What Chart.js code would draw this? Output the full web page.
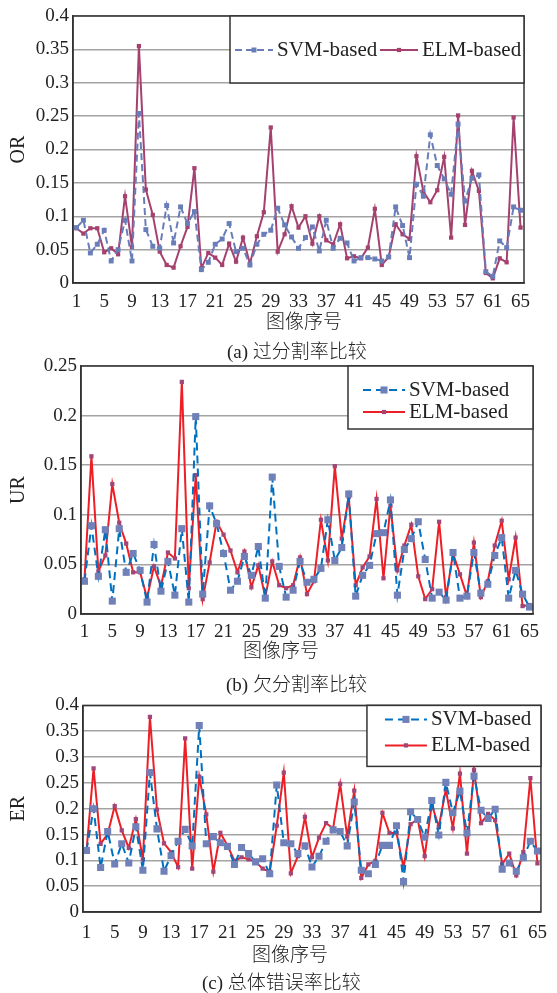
<!DOCTYPE html>
<html>
<head>
<meta charset="utf-8">
<script src="https://cdn.jsdelivr.net/npm/chart.js@4.4.1/dist/chart.umd.min.js"></script>
<style>
body { margin: 0; background: #fff; }
#page { position: relative; width: 557px; height: 993px; overflow: hidden; background: #fff; }
#page canvas { position: absolute; left: 0; }
.txt { position: absolute; font-size: 19px; line-height: 20px; height: 20px; white-space: nowrap; color: #222;
       font-weight: 300; font-family: 'Liberation Serif', 'Noto Sans CJK SC', serif; }
</style>
</head>
<body>
<div id="page">
  <canvas id="chartOR" width="557" height="340" style="top:0px"></canvas>
  <canvas id="chartUR" width="557" height="330" style="top:345px"></canvas>
  <canvas id="chartER" width="557" height="280" style="top:690px"></canvas>

  <div class="txt" style="left:266px;top:312px">图像序号</div>
  <div class="txt" style="left:227px;top:342px">(a) 过分割率比较</div>
  <div class="txt" style="left:243px;top:641px">图像序号</div>
  <div class="txt" style="left:226px;top:675px">(b) 欠分割率比较</div>
  <div class="txt" style="left:252px;top:945px">图像序号</div>
  <div class="txt" style="left:202px;top:973px">(c) 总体错误率比较</div>
</div>

<script>
const imageNo = [1, 2, 3, 4, 5, 6, 7, 8, 9, 10, 11, 12, 13, 14, 15, 16, 17, 18, 19, 20,
  21, 22, 23, 24, 25, 26, 27, 28, 29, 30, 31, 32, 33, 34, 35, 36, 37, 38, 39, 40,
  41, 42, 43, 44, 45, 46, 47, 48, 49, 50, 51, 52, 53, 54, 55, 56, 57, 58, 59, 60,
  61, 62, 63, 64, 65];

// (a) over-segmentation rate
const orSVM = [0.083, 0.094, 0.045, 0.058, 0.079, 0.033, 0.05, 0.094, 0.033, 0.254,
  0.08, 0.055, 0.052, 0.116, 0.06, 0.114, 0.089, 0.107, 0.02, 0.031,
  0.058, 0.066, 0.089, 0.047, 0.052, 0.027, 0.058, 0.073, 0.079, 0.112,
  0.087, 0.069, 0.052, 0.068, 0.084, 0.048, 0.094, 0.052, 0.067, 0.06,
  0.033, 0.038, 0.038, 0.036, 0.033, 0.039, 0.114, 0.086, 0.038, 0.148,
  0.13, 0.222, 0.176, 0.156, 0.133, 0.238, 0.123, 0.157, 0.162, 0.017,
  0.01, 0.063, 0.053, 0.114, 0.109];
const orELM = [0.082, 0.074, 0.082, 0.082, 0.046, 0.052, 0.043, 0.13, 0.054, 0.355,
  0.14, 0.102, 0.047, 0.027, 0.023, 0.055, 0.084, 0.172, 0.022, 0.045,
  0.038, 0.027, 0.059, 0.032, 0.068, 0.029, 0.07, 0.106, 0.233, 0.047,
  0.073, 0.115, 0.083, 0.1, 0.059, 0.1, 0.064, 0.058, 0.088, 0.037,
  0.04, 0.037, 0.053, 0.111, 0.027, 0.039, 0.088, 0.073, 0.066, 0.19,
  0.137, 0.121, 0.139, 0.189, 0.068, 0.251, 0.087, 0.168, 0.138, 0.015,
  0.007, 0.037, 0.031, 0.248, 0.083];

// (b) under-segmentation rate
const urSVM = [0.033, 0.089, 0.038, 0.085, 0.013, 0.086, 0.042, 0.061, 0.044, 0.012,
  0.07, 0.023, 0.053, 0.019, 0.086, 0.012, 0.199, 0.02, 0.109, 0.091,
  0.061, 0.024, 0.033, 0.058, 0.039, 0.068, 0.016, 0.138, 0.048, 0.017,
  0.024, 0.053, 0.032, 0.035, 0.046, 0.095, 0.054, 0.067, 0.121, 0.018,
  0.039, 0.049, 0.081, 0.082, 0.115, 0.019, 0.065, 0.076, 0.093, 0.055,
  0.016, 0.022, 0.014, 0.062, 0.016, 0.018, 0.062, 0.021, 0.03, 0.059,
  0.077, 0.016, 0.044, 0.02, 0.007];
const urELM = [0.035, 0.159, 0.043, 0.059, 0.131, 0.092, 0.071, 0.042, 0.042, 0.016,
  0.048, 0.028, 0.062, 0.056, 0.234, 0.026, 0.14, 0.015, 0.052, 0.093,
  0.08, 0.064, 0.042, 0.063, 0.027, 0.049, 0.017, 0.053, 0.029, 0.026,
  0.029, 0.057, 0.02, 0.033, 0.095, 0.054, 0.149, 0.076, 0.118, 0.029,
  0.047, 0.058, 0.116, 0.036, 0.109, 0.044, 0.069, 0.09, 0.038, 0.015,
  0.025, 0.093, 0.017, 0.061, 0.04, 0.018, 0.072, 0.017, 0.033, 0.069,
  0.094, 0.035, 0.077, 0.008, 0.009];

// (c) overall error rate
const erSVM = [0.119, 0.2, 0.086, 0.156, 0.093, 0.132, 0.095, 0.165, 0.081, 0.27,
  0.161, 0.079, 0.109, 0.137, 0.16, 0.128, 0.361, 0.132, 0.146, 0.134,
  0.127, 0.092, 0.125, 0.113, 0.097, 0.103, 0.074, 0.246, 0.134, 0.132,
  0.113, 0.128, 0.087, 0.108, 0.137, 0.159, 0.156, 0.128, 0.213, 0.081,
  0.074, 0.092, 0.129, 0.129, 0.167, 0.059, 0.194, 0.179, 0.145, 0.216,
  0.149, 0.251, 0.192, 0.234, 0.153, 0.263, 0.197, 0.181, 0.199, 0.083,
  0.095, 0.079, 0.105, 0.137, 0.118];
const erELM = [0.119, 0.278, 0.132, 0.151, 0.205, 0.158, 0.124, 0.18, 0.102, 0.378,
  0.198, 0.133, 0.116, 0.087, 0.336, 0.084, 0.262, 0.189, 0.078, 0.153,
  0.129, 0.099, 0.106, 0.102, 0.097, 0.084, 0.078, 0.167, 0.27, 0.075,
  0.108, 0.184, 0.106, 0.144, 0.172, 0.162, 0.248, 0.146, 0.235, 0.066,
  0.092, 0.099, 0.192, 0.153, 0.153, 0.086, 0.17, 0.18, 0.108, 0.208,
  0.165, 0.237, 0.162, 0.268, 0.113, 0.275, 0.172, 0.19, 0.178, 0.093,
  0.113, 0.071, 0.116, 0.259, 0.094];

const seriesNames = ['SVM-based', 'ELM-based'];

Chart.defaults.font.family = "'Liberation Serif', 'Times New Roman', serif";
Chart.defaults.font.size = 19;
Chart.defaults.color = '#222';

// box round the plot area
const frame = {
  id: 'frame',
  afterDatasetsDraw(chart) {
    const a = chart.chartArea, ctx = chart.ctx;
    ctx.save();
    ctx.strokeStyle = '#333';
    ctx.lineWidth = 1.5;
    ctx.strokeRect(a.left, a.top, a.right - a.left, a.bottom - a.top);
    ctx.restore();
  }
};

// legend drawn as a boxed panel in the top right corner of the plot
const boxLegend = {
  id: 'boxLegend',
  afterDatasetsDraw(chart, args, o) {
    const a = chart.chartArea, ctx = chart.ctx;
    const x0 = a.right - o.w, y0 = a.top;
    ctx.save();
    ctx.fillStyle = '#fff';
    ctx.fillRect(x0, y0, o.w, o.h);
    ctx.strokeStyle = '#333';
    ctx.lineWidth = 1.5;
    ctx.strokeRect(x0, y0, o.w, o.h);
    ctx.font = "21px 'Liberation Serif', serif";
    ctx.textBaseline = 'middle';
    chart.data.datasets.forEach(function(ds, i) {
      const lx = x0 + o.items[i][0], ly = y0 + o.items[i][1];
      ctx.strokeStyle = ds.borderColor;
      ctx.lineWidth = ds.borderWidth;
      ctx.setLineDash(ds.borderDash || []);
      ctx.beginPath();
      ctx.moveTo(lx, ly);
      ctx.lineTo(lx + o.sample, ly);
      ctx.stroke();
      ctx.setLineDash([]);
      const s = ds.pointRadius * Math.SQRT1_2;
      ctx.fillStyle = ds.pointBackgroundColor;
      ctx.fillRect(lx + o.sample / 2 - s, ly - s, 2 * s, 2 * s);
      ctx.fillStyle = '#222';
      ctx.fillText(ds.label, lx + o.sample + 4, ly);
    });
    ctx.restore();
  }
};

function makeChart(id, yTitle, svm, elm, o) {
  const data = {
    labels: imageNo,
    datasets: [{
      label: seriesNames[0],
      data: svm,
      borderColor: o.svmLine,
      borderWidth: 2,
      borderDash: o.dash,
      pointStyle: 'rect',
      pointRadius: o.svmPt,
      pointBackgroundColor: o.svmMark,
      pointBorderColor: o.svmMark,
      pointBorderWidth: 0,
      tension: 0
    }, {
      label: seriesNames[1],
      data: elm,
      borderColor: o.elmLine,
      borderWidth: 2,
      pointStyle: 'rect',
      pointRadius: 3,
      pointBackgroundColor: o.elmMark,
      pointBorderColor: o.elmMark,
      pointBorderWidth: 0,
      tension: 0
    }]
  };

  const config = {
    type: 'line',
    data,
    options: {
      responsive: false,
      animation: false,
      layout: { padding: o.pad },
      plugins: {
        legend: { display: false },
        tooltip: { enabled: false },
        boxLegend: o.legend
      },
      scales: {
        x: {
          offset: true,
          grid: { display: false, drawTicks: false },
          border: { display: true, color: '#333', width: 1.5 },
          ticks: {
            autoSkip: false,
            maxRotation: 0,
            minRotation: 0,
            padding: o.tickPad,
            // only every fourth image number is labelled
            callback: function(value, index) {
              return index % 4 === 0 ? imageNo[index] : '';
            }
          },
          afterFit: function(scale) { scale.height = o.xHeight; }
        },
        y: {
          min: 0,
          max: o.yMax,
          grid: { color: '#a3a3a3', lineWidth: 1.5, drawTicks: false },
          border: { display: true, color: '#333', width: 1.5 },
          ticks: {
            stepSize: 0.05,
            padding: 4,
            callback: function(value) { return String(+value.toFixed(2)); }
          },
          title: {
            display: true,
            text: yTitle,
            font: { size: 20 },
            padding: { top: 7, bottom: 0 }
          },
          afterFit: function(scale) { scale.width = o.yWidth; }
        }
      }
    },
    plugins: [frame, boxLegend]
  };

  return new Chart(document.getElementById(id), config);
}

var chartA = makeChart('chartOR', 'OR', orSVM, orELM, {
  yMax: 0.4, yWidth: 73, xHeight: 57, tickPad: 8,
  pad: { top: 16, right: 33, left: 0, bottom: 0 },
  svmLine: 'rgb(105, 125, 185)', svmMark: 'rgb(105, 125, 185)', svmPt: 3.5, dash: [7, 4],
  elmLine: 'rgb(165, 65, 110)', elmMark: 'rgb(165, 65, 110)',
  legend: { w: 294, h: 67, sample: 38, items: [[5, 34], [150, 34]] }
});

var chartB = makeChart('chartUR', 'UR', urSVM, urELM, {
  yMax: 0.25, yWidth: 81, xHeight: 61, tickPad: 7,
  pad: { top: 21, right: 24, left: 0, bottom: 0 },
  svmLine: 'rgb(0, 112, 192)', svmMark: 'rgb(112, 128, 185)', svmPt: 5, dash: [8, 5],
  elmLine: 'rgb(237, 30, 38)', elmMark: 'rgb(160, 70, 120)',
  legend: { w: 185, h: 63, sample: 42, items: [[15, 24], [15, 46]] }
});

var chartC = makeChart('chartER', 'ER', erSVM, erELM, {
  yMax: 0.4, yWidth: 83, xHeight: 58, tickPad: 10,
  pad: { top: 12, right: 10, left: 0, bottom: 0 },
  svmLine: 'rgb(0, 112, 192)', svmMark: 'rgb(112, 128, 185)', svmPt: 5, dash: [8, 5],
  elmLine: 'rgb(237, 30, 38)', elmMark: 'rgb(160, 70, 120)',
  legend: { w: 174, h: 61, sample: 42, items: [[18, 14], [18, 40]] }
});
</script>
</body>
</html>
